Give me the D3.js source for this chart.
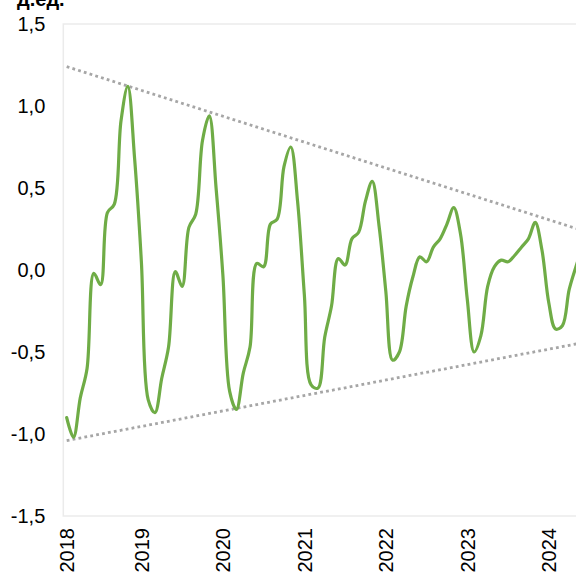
<!DOCTYPE html>
<html>
<head>
<meta charset="utf-8">
<script src="https://cdn.jsdelivr.net/npm/d3@7"></script>
<style>
  html, body { margin: 0; padding: 0; background: #ffffff; overflow: hidden; }
  svg { display: block; font-family: "Liberation Sans", Arial, sans-serif; }
</style>
</head>
<body>
<svg id="chart" width="576" height="576"></svg>
<script>
// ---- data (monthly, first point = Feb 2018) ----
const unitLabel = "д.ед.";
const values = [
  -0.90, -1.02, -0.78, -0.60, -0.02, -0.09, 0.35, 0.40, 0.91, 1.12, 0.68, 0.05,
  -0.79, -0.87, -0.66, -0.47, -0.01, -0.10, 0.26, 0.34, 0.79, 0.94, 0.50, -0.03,
  -0.74, -0.85, -0.63, -0.47, 0.04, 0.02, 0.28, 0.31, 0.63, 0.75, 0.42, -0.15,
  -0.70, -0.72, -0.41, -0.22, 0.07, 0.03, 0.19, 0.23, 0.42, 0.54, 0.27, -0.13,
  -0.55, -0.50, -0.22, -0.04, 0.08, 0.05, 0.14, 0.19, 0.28, 0.38, 0.22, -0.18,
  -0.50, -0.40, -0.10, 0.02, 0.06, 0.05, 0.09, 0.14, 0.19, 0.29, 0.12, -0.20,
  -0.36, -0.34, -0.12, 0.02, 0.15
];
const xLabels = ["2018", "2019", "2020", "2021", "2022", "2023", "2024"];
const xLabelIndex = [0, 11, 23, 35, 47, 59, 71];
const yTicks = [-1.5, -1.0, -0.5, 0.0, 0.5, 1.0, 1.5];
const yTickLabels = ["-1,5", "-1,0", "-0,5", "0,0", "0,5", "1,0", "1,5"];
const trendIndex = [0, 80];
const upperTrend = [1.24, 0.188];
const lowerTrend = [-1.04, -0.412];
const totalCategories = 83; // Feb 2018 .. Dec 2024

// ---- layout ----
const svg = d3.select("#chart");
const plotLeft = 63.3, plotTop = 24, plotBottom = 516;
const monthW = 6.79;
const plotRight = plotLeft + monthW * totalCategories;

const x = d3.scaleLinear().domain([-0.5, totalCategories - 0.5]).range([plotLeft, plotRight]);
const y = d3.scaleLinear().domain([-1.5, 1.5]).range([plotBottom, plotTop]);

// plot area border
svg.append("rect")
  .attr("x", plotLeft).attr("y", plotTop)
  .attr("width", plotRight - plotLeft).attr("height", plotBottom - plotTop)
  .attr("fill", "none").attr("stroke", "#ebebeb").attr("stroke-width", 1.5);

// y axis labels
const yAxis = d3.axisLeft(y).tickValues(yTicks)
  .tickFormat((d, i) => yTickLabels[i]).tickSize(0).tickPadding(18);
const gy = svg.append("g").attr("transform", `translate(${plotLeft},0)`).call(yAxis);
gy.select(".domain").remove();
gy.selectAll("text").attr("font-size", 20).attr("fill", "#000")
  .attr("font-family", "'Liberation Sans', Arial, sans-serif");

// x axis labels (rotated)
const xAxis = d3.axisBottom(x).tickValues(xLabelIndex)
  .tickFormat((d, i) => xLabels[i]).tickSize(0);
const gx = svg.append("g").attr("transform", `translate(0,${plotBottom})`).call(xAxis);
gx.select(".domain").remove();
gx.selectAll("text")
  .attr("font-size", 20).attr("fill", "#000")
  .attr("font-family", "'Liberation Sans', Arial, sans-serif")
  .attr("text-anchor", "end")
  .attr("transform", "rotate(-90)")
  .attr("x", -12).attr("y", 0).attr("dy", "0.35em");

// trend lines
const trendLine = d3.line().x((d, i) => x(trendIndex[i])).y(d => y(d));
[upperTrend, lowerTrend].forEach(t => {
  svg.append("path").datum(t)
    .attr("d", trendLine)
    .attr("fill", "none")
    .attr("stroke", "#a6a6a6")
    .attr("stroke-width", 2.8)
    .attr("stroke-dasharray", "2.8,3.2");
});

// main series
const line = d3.line()
  .x((d, i) => x(i)).y(d => y(d))
  .curve(d3.curveCatmullRom.alpha(0.5));
svg.append("path").datum(values)
  .attr("d", line)
  .attr("fill", "none")
  .attr("stroke", "#6fac46")
  .attr("stroke-width", 3.2)
  .attr("stroke-linejoin", "round")
  .attr("stroke-linecap", "round");

// unit label (cut at the top like the reference)
svg.append("text")
  .attr("x", 17).attr("y", 6)
  .attr("font-size", 20).attr("font-weight", "bold")
  .attr("fill", "#000")
  .text(unitLabel);
</script>
</body>
</html>
